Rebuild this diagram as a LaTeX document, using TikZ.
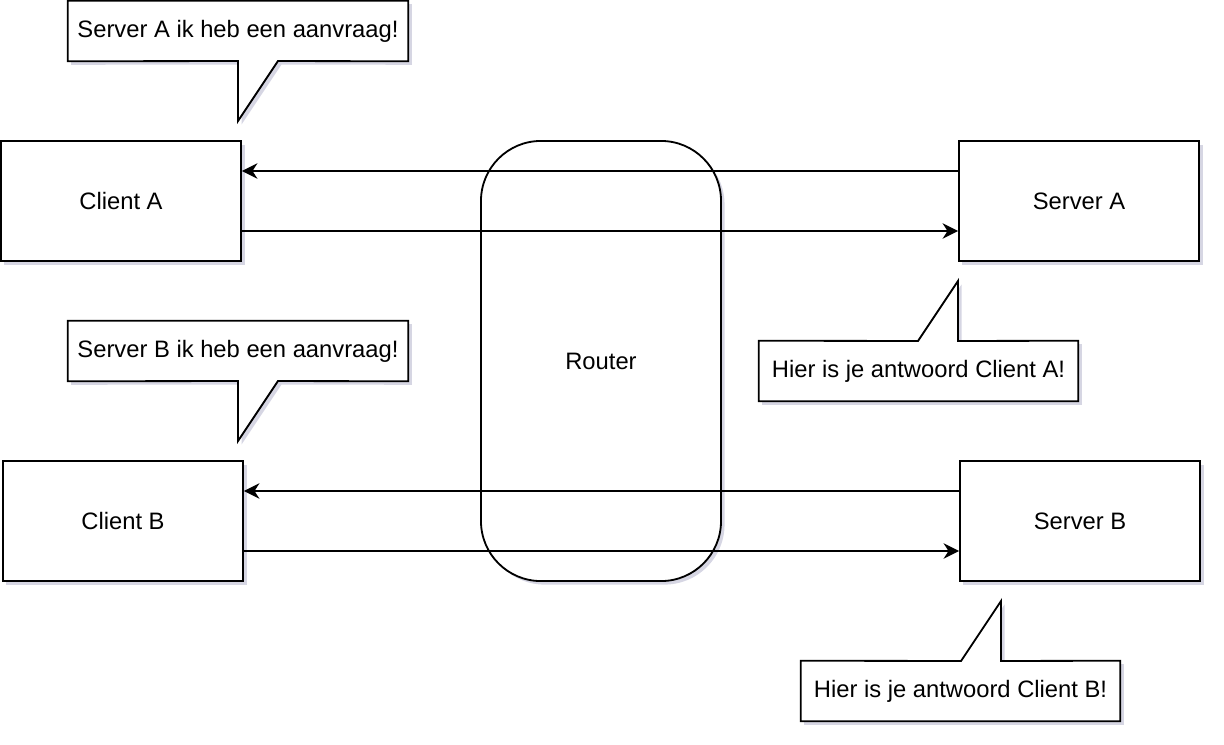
\documentclass[tikz,border=0pt]{standalone}
\usepackage{fontspec}
\setmainfont{Liberation Sans}
\usetikzlibrary{arrows.meta,shadows,backgrounds}

\tikzset{
    shade box/.style={drop shadow={shadow xshift=2.5pt, shadow yshift=-2.5pt, fill=blue!20!gray!45, opacity=0.6}},
    hostbox/.style={draw, fill=white, line width=1.3pt, minimum width=6cm, minimum height=3cm, shade box},
    routerbox/.style={draw, fill=white, line width=1.3pt, rounded corners=1.5cm, minimum width=6cm, minimum height=11cm, shade box},
    calltext/.style={minimum height=1.5cm, inner sep=0pt},
    callout/.style={draw, fill=white, line width=1.3pt, line join=miter, shade box},
    link/.style={line width=1.3pt, -{Stealth[length=11pt, width=11pt, inset=3.5pt]}},
}

\begin{document}
\begin{tikzpicture}[x=0.025cm, y=-0.025cm, font=\fontsize{16.9}{19}\selectfont]
    \useasboundingbox (0,0) rectangle (1224,744);

    % router in the middle
    \node[routerbox] (router) at (601,361) {Router};

    % hosts
    \node[hostbox] (cliA) at (121,201) {Client A};
    \node[hostbox] (srvA) at (1079,201) {Server A};
    \node[hostbox] (cliB) at (123,521) {Client B};
    \node[hostbox] (srvB) at (1080,521) {Server B};

    % connections
    \draw[link] ([yshift=0.75cm]srvA.west) -- ([yshift=0.75cm]cliA.east);
    \draw[link] ([yshift=-0.75cm]cliA.east) -- ([yshift=-0.75cm]srvA.west);
    \draw[link] ([yshift=0.75cm]srvB.west) -- ([yshift=0.75cm]cliB.east);
    \draw[link] ([yshift=-0.75cm]cliB.east) -- ([yshift=-0.75cm]srvB.west);

    % speech bubbles
    \node[calltext, minimum width=8.5cm] (askA) at (238,31) {Server A ik heb een aanvraag!};
    \node[calltext, minimum width=8.5cm] (askB) at (238,351) {Server B ik heb een aanvraag!};
    \node[calltext, minimum width=7.975cm] (ansA) at (918.5,371) {Hier is je antwoord Client A!};
    \node[calltext, minimum width=7.975cm] (ansB) at (960.5,691) {Hier is je antwoord Client B!};

    \coordinate (tipA) at (238,121);
    \coordinate (tipB) at (238,441);
    \coordinate (tipC) at (958,281);
    \coordinate (tipD) at (1001,601);

    \begin{scope}[on background layer]
        \draw[callout] (askA.north west) -- (askA.north east) -- (askA.south east)
            -- (278,61) -- (tipA) -- (238,61) -- (askA.south west) -- cycle;
        \draw[callout] (askB.north west) -- (askB.north east) -- (askB.south east)
            -- (278,381) -- (tipB) -- (238,381) -- (askB.south west) -- cycle;
        \draw[callout] (ansA.north west) -- (918,341) -- (tipC) -- (958,341)
            -- (ansA.north east) -- (ansA.south east) -- (ansA.south west) -- cycle;
        \draw[callout] (ansB.north west) -- (961,661) -- (tipD) -- (1001,661)
            -- (ansB.north east) -- (ansB.south east) -- (ansB.south west) -- cycle;
    \end{scope}
\end{tikzpicture}
\end{document}
